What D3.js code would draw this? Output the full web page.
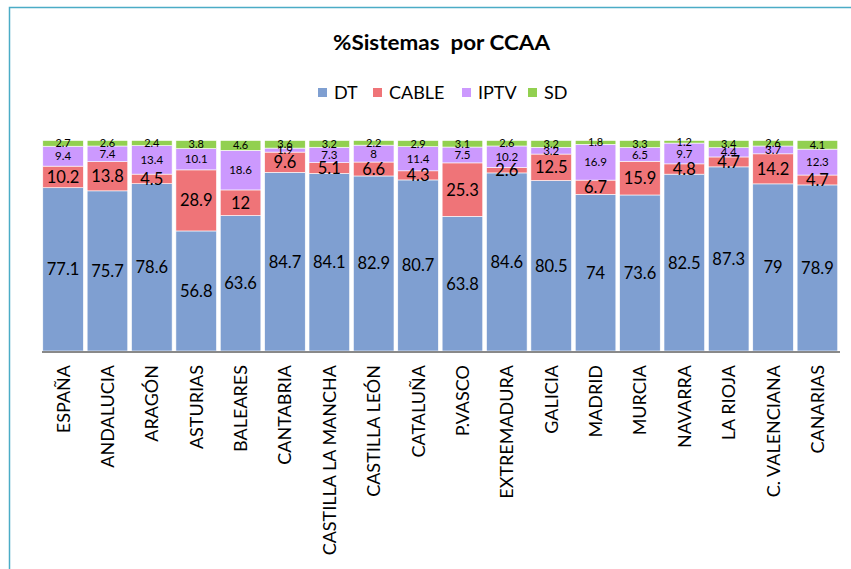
<!DOCTYPE html>
<html><head><meta charset="utf-8">
<script src="https://cdn.jsdelivr.net/npm/d3@7"></script>
<style>html,body{margin:0;padding:0;background:#fff;}svg{display:block;}</style>
</head><body>
<script>
const categories = ["ESPAÑA","ANDALUCIA","ARAGÓN","ASTURIAS","BALEARES","CANTABRIA","CASTILLA LA MANCHA","CASTILLA LEÓN","CATALUÑA","P.VASCO","EXTREMADURA","GALICIA","MADRID","MURCIA","NAVARRA","LA RIOJA","C. VALENCIANA","CANARIAS"];
const seriesNames = ["DT","CABLE","IPTV","SD"];
const DT    = [77.1,75.7,78.6,56.8,63.6,84.7,84.1,82.9,80.7,63.8,84.6,80.5,74,73.6,82.5,87.3,79,78.9];
const CABLE = [10.2,13.8,4.5,28.9,12,9.6,5.1,6.6,4.3,25.3,2.6,12.5,6.7,15.9,4.8,4.7,14.2,4.7];
const IPTV  = [9.4,7.4,13.4,10.1,18.6,1.9,7.3,8,11.4,7.5,10.2,3.2,16.9,6.5,9.7,4.4,3.7,12.3];
const SD    = [2.7,2.6,2.4,3.8,4.6,3.6,3.2,2.2,2.9,3.1,2.6,3.2,1.8,3.3,1.2,3.4,2.6,4.1];
const title = "%Sistemas  por CCAA";

const colors = {DT:"#7f9fd1", CABLE:"#ef7478", IPTV:"#cc99fe", SD:"#92d050"};
const labelSize = {DT:16.5, CABLE:16.5, IPTV:11.5, SD:11};

const W=851,H=569;
const svg=d3.select("body").append("svg").attr("width",W).attr("height",H);
const font="Lato, 'Open Sans', sans-serif";

// frame
svg.append("path").attr("d",`M9.5,${H+2} L9.5,7.5 L${W+2},7.5`).attr("fill","none").attr("stroke","#4bacc6").attr("stroke-width",1.5);

svg.append("text").attr("x",333).attr("y",50)
  .attr("font-family",font).attr("font-weight","bold").attr("font-size",20)
  .attr("textLength",217).attr("lengthAdjust","spacingAndGlyphs")
  .attr("fill","#000").style("white-space","pre").text(title);

const rows = categories.map((c,i)=>({cat:c, DT:DT[i], CABLE:CABLE[i], IPTV:IPTV[i], SD:SD[i]}));
const stack = d3.stack().keys(seriesNames).offset(d3.stackOffsetExpand);
const stacked = stack(rows);

const x = d3.scaleBand().domain(categories).range([41,839.5]).paddingInner(0.085).paddingOuter(0.04);
const y = d3.scaleLinear().domain([0,1]).range([351,140.5]);

const g = svg.append("g");
stacked.forEach(s=>{
  const gs = g.append("g").attr("fill",colors[s.key]);
  gs.selectAll("rect").data(s).join("rect")
    .attr("x",d=>x(d.data.cat)).attr("width",x.bandwidth())
    .attr("y",d=>y(d[1])).attr("height",d=>y(d[0])-y(d[1]))
    .attr("stroke","#ffffff").attr("stroke-width",0.6);
});
stacked.forEach(s=>{
  g.append("g").selectAll("text").data(s).join("text")
    .attr("x",d=>x(d.data.cat)+x.bandwidth()/2)
    .attr("y",d=>(y(d[0])+y(d[1]))/2)
    .attr("dy","0.36em")
    .attr("text-anchor","middle").attr("font-family",font)
    .attr("font-size",labelSize[s.key]).attr("fill","#000")
    .text(d=>d.data[s.key]);
});

// axis
const ax = d3.axisBottom(x).tickSize(0).tickPadding(0);
const axg = svg.append("g").attr("transform","translate(0,352)").call(ax);
axg.select(".domain").attr("stroke","#898989").attr("stroke-width",2).attr("d","M42,0H840");
axg.selectAll(".tick text")
  .attr("transform","rotate(-90)")
  .attr("x",-13).attr("y",0).attr("dy","0.36em")
  .attr("text-anchor","end").attr("font-family",font).attr("font-size",18).attr("fill","#000");

// legend
const legX=[318,373,462,528];
const leg = svg.append("g");
seriesNames.forEach((k,i)=>{
  leg.append("rect").attr("x",legX[i]).attr("y",88).attr("width",9).attr("height",9).attr("fill",colors[k]);
  leg.append("text").attr("x",legX[i]+16).attr("y",99).attr("font-family",font).attr("font-size",18).attr("fill","#000").text(k);
});
</script>
</body></html>
